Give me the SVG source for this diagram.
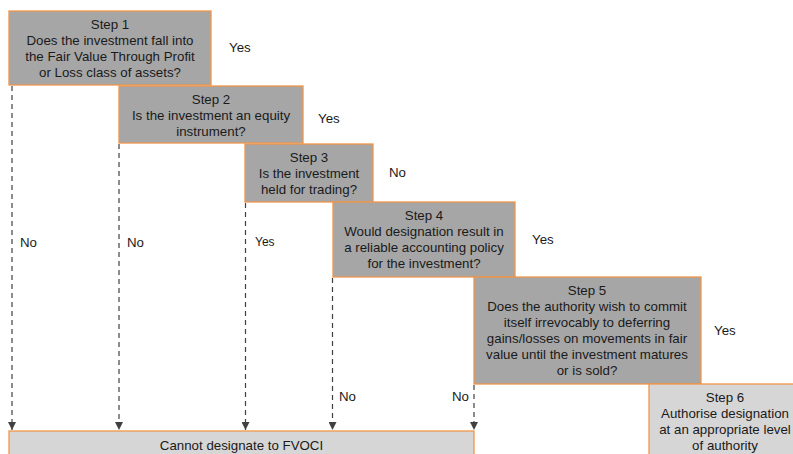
<svg xmlns="http://www.w3.org/2000/svg" width="793" height="454" viewBox="0 0 793 454">
<defs>
<style>
.box{fill:#a6a6a6;stroke:#f0964a;stroke-width:1.3}
.lbox{fill:#d6d6d6;stroke:#f0964a;stroke-width:1.3}
text{font-family:"Liberation Sans",Arial,sans-serif;font-size:13.3px;fill:#1a1a1a}
.c{text-anchor:middle}
.s{font-size:12px}
.conn{stroke:#404040;stroke-width:1.2;stroke-dasharray:5 4;fill:none}
</style>
<marker id="arr" viewBox="0 0 10 10" refX="10" refY="5" markerWidth="8" markerHeight="8" markerUnits="userSpaceOnUse" orient="auto">
<path d="M0,0 L10,5 L0,10 z" fill="#404040"/>
</marker>
</defs>
<rect width="793" height="454" fill="#ffffff"/>
<g id="connectors">
<line class="conn" x1="12" y1="86" x2="12" y2="430" marker-end="url(#arr)"/>
<line class="conn" x1="119" y1="144" x2="119" y2="430" marker-end="url(#arr)"/>
<line class="conn" x1="245.5" y1="203" x2="245.5" y2="430" marker-end="url(#arr)"/>
<line class="conn" x1="332.5" y1="278" x2="332.5" y2="430" marker-end="url(#arr)"/>
<line class="conn" x1="474" y1="385" x2="474" y2="430" marker-end="url(#arr)"/>
</g>
<g id="labels">
<text x="229" y="52">Yes</text>
<text x="318" y="123">Yes</text>
<text x="389" y="177">No</text>
<text x="532" y="244">Yes</text>
<text x="714" y="335">Yes</text>
<text x="20" y="247">No</text>
<text x="127" y="247">No</text>
<text x="255" y="246" class="s">Yes</text>
<text x="339" y="401">No</text>
<text x="452" y="401">No</text>
</g>
<g id="step1">
<rect class="box" x="9" y="11" width="202" height="74"/>
<text class="c" x="110" y="29">Step 1</text>
<text class="c" x="110" y="45">Does the investment fall into</text>
<text class="c" x="110" y="61">the Fair Value Through Profit</text>
<text class="c" x="110" y="77">or Loss class of assets?</text>
</g>
<g id="step2">
<rect class="box" x="119" y="86" width="184" height="57"/>
<text class="c" x="211" y="104">Step 2</text>
<text class="c" x="211" y="120">Is the investment an equity</text>
<text class="c" x="211" y="136">instrument?</text>
</g>
<g id="step3">
<rect class="box" x="245" y="144" width="128" height="58"/>
<text class="c" x="309" y="162">Step 3</text>
<text class="c" x="309" y="178">Is the investment</text>
<text class="c" x="309" y="194">held for trading?</text>
</g>
<g id="step4">
<rect class="box" x="333" y="202" width="182" height="75"/>
<text class="c" x="424" y="220">Step 4</text>
<text class="c" x="424" y="236">Would designation result in</text>
<text class="c" x="424" y="252">a reliable accounting policy</text>
<text class="c" x="424" y="268">for the investment?</text>
</g>
<g id="step5">
<rect class="box" x="474" y="277" width="227" height="107"/>
<text class="c" x="587" y="295">Step 5</text>
<text class="c" x="587" y="311">Does the authority wish to commit</text>
<text class="c" x="587" y="327">itself irrevocably to deferring</text>
<text class="c" x="587" y="343">gains/losses on movements in fair</text>
<text class="c" x="587" y="359">value until the investment matures</text>
<text class="c" x="587" y="375">or is sold?</text>
</g>
<g id="step6">
<rect class="lbox" x="649" y="384" width="152" height="80"/>
<text class="c" x="725" y="402">Step 6</text>
<text class="c" x="725" y="418">Authorise designation</text>
<text class="c" x="725" y="434">at an appropriate level</text>
<text class="c" x="725" y="450">of authority</text>
</g>
<g id="cannot">
<rect class="lbox" x="9" y="431" width="465" height="30"/>
<text class="c" x="241.5" y="450">Cannot designate to FVOCI</text>
</g>
</svg>
